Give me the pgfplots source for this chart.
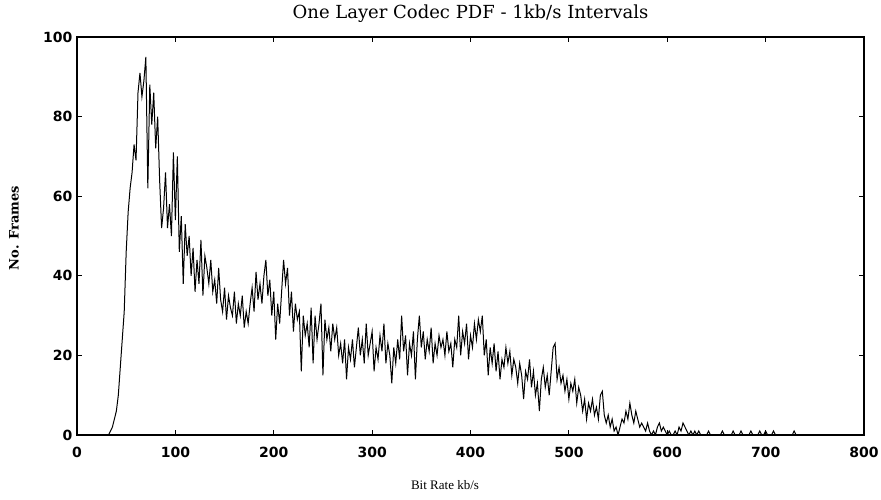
\documentclass[border=0pt]{standalone}
\usepackage{pgfplots}
\pgfplotsset{compat=1.18}
\usepackage{fontspec}
\setmainfont{DejaVu Serif}
\newfontfamily\tickfont{DejaVu Sans}
\newfontfamily\labfont{Liberation Serif}
\begin{document}
\begin{tikzpicture}
\begin{axis}[
  scale only axis,
  width=787pt, height=398pt,
  xmin=0, xmax=800, ymin=0, ymax=100,
  xtick={0,100,...,800}, ytick={0,20,...,100},
  tick align=inside, major tick length=5pt,
  tick style={black, line width=0.8pt},
  axis line style={line width=1.3pt},
  /pgf/number format/assume math mode=true,
  ticklabel style={font=\tickfont\bfseries\fontsize{14}{14}\selectfont},
  xticklabel style={yshift=-9pt},
  yticklabel style={xshift=-1pt},
  title={One Layer Codec PDF - 1kb/s Intervals},
  title style={at={(axis description cs:0.5,1.043)}, anchor=center, font=\fontsize{18}{18}\selectfont},
  xlabel={Bit Rate kb/s},
  xlabel style={at={(axis description cs:0.4676,-0.1256)}, anchor=center, font=\labfont\fontsize{13}{13}\selectfont},
  ylabel={No. Frames},
  ylabel style={at={(axis description cs:-0.080,0.52)}, anchor=center, font=\bfseries\fontsize{13}{13}\selectfont},
]
\addplot[black, line width=1pt, mark=none] table {
x y
26 0
28 0
30 0
32 0
34 1
36 2
38 4
40 6
42 10
44 17
46 24
48 31
50 46
52 56
54 62
56 66
58 73
60 69
62 86
64 91
66 85
68 89
70 95
72 62
74 88
76 78
78 86
80 72
82 80
84 64
86 52
88 57
90 66
92 52
94 58
96 50
98 71
100 54
102 70
104 46
106 55
108 38
110 53
112 45
114 50
116 40
118 47
120 36
122 44
124 38
126 49
128 35
130 45
132 42
134 38
136 44
138 36
140 39
142 33
144 42
146 34
148 31
150 37
152 29
154 35
156 32
158 30
160 36
162 28
164 33
166 30
168 35
170 27
172 31
174 28
176 33
178 37
180 31
182 41
184 34
186 38
188 33
190 40
192 44
194 35
196 39
198 30
200 36
202 24
204 33
206 28
208 36
210 44
212 38
214 42
216 30
218 36
220 26
222 33
224 29
226 31
228 16
230 30
232 25
234 28
236 22
238 32
240 18
242 30
244 24
246 28
248 33
250 15
252 29
254 24
256 27
258 21
260 28
262 24
264 27
266 20
268 23
270 18
272 24
274 14
276 22
278 19
280 24
282 17
284 22
286 27
288 20
290 24
292 18
294 28
296 20
298 23
300 26
302 16
304 22
306 19
308 25
310 21
312 28
314 18
316 23
318 20
320 13
322 22
324 18
326 24
328 19
330 30
332 21
334 25
336 15
338 23
340 20
342 26
344 14
346 24
348 30
350 22
352 26
354 19
356 24
358 21
360 27
362 18
364 23
366 20
368 25
370 22
372 24
374 20
376 26
378 21
380 23
382 17
384 24
386 22
388 30
390 20
392 26
394 23
396 28
398 19
400 25
402 22
404 28
406 24
408 29
410 26
412 30
414 20
416 24
418 15
420 22
422 18
424 23
426 16
428 21
430 14
432 19
434 17
436 22
438 18
440 21
442 15
444 19
446 17
448 13
450 18
452 15
454 9
456 16
458 14
460 19
462 12
464 16
466 10
468 13
470 6
472 14
474 17
476 12
478 15
480 10
482 16
484 22
486 23
488 14
490 17
492 13
494 15
496 11
498 14
500 9
502 13
504 11
506 14
508 8
510 12
512 10
514 6
516 9
518 4
520 8
522 6
524 9
526 5
528 7
530 4
532 10
534 11
536 5
538 3
540 5
542 2
544 4
546 1
548 2
550 0
552 2
554 4
556 3
558 6
560 4
562 8
564 5
566 3
568 6
570 4
572 2
574 3
576 2
578 1
580 3
582 1
584 0
586 1
588 0
590 2
592 3
594 1
596 2
598 1
600 0
602 1
604 0
606 0
608 1
610 0
612 2
614 1
616 3
618 2
620 1
622 0
624 1
626 0
628 1
630 0
632 1
634 0
640 0
642 1
644 0
654 0
656 1
658 0
665 0
667 1
669 0
673 0
675 1
677 0
683 0
685 1
687 0
692 0
694 1
696 0
698 0
700 1
702 0
706 0
708 1
710 0
727 0
729 1
731 0
735 0
};
\end{axis}
\pgfresetboundingbox
\path[use as bounding box] (-77pt,-64pt) rectangle (804pt,435pt);
\end{tikzpicture}
\end{document}
